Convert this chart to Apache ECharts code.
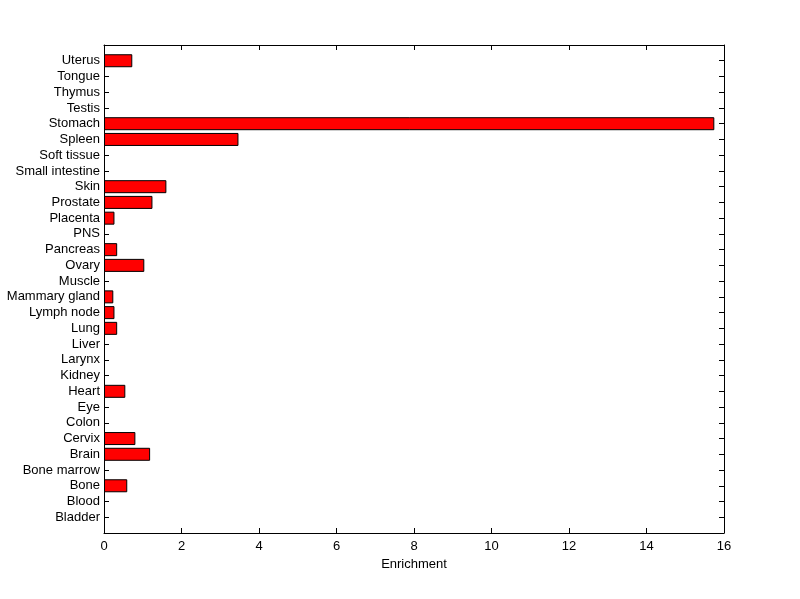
<!DOCTYPE html>
<html>
<head>
<meta charset="utf-8">
<script src="https://cdn.jsdelivr.net/npm/echarts@6/dist/echarts.min.js"></script>
<style>html,body{margin:0;padding:0;background:#fff;}#c{width:800px;height:599px;}</style>
</head>
<body>
<div id="c"></div>
<script>
var categories = ['Bladder','Blood','Bone','Bone marrow','Brain','Cervix','Colon','Eye','Heart','Kidney','Larynx','Liver','Lung','Lymph node','Mammary gland','Muscle','Ovary','Pancreas','PNS','Placenta','Prostate','Skin','Small intestine','Soft tissue','Spleen','Stomach','Testis','Thymus','Tongue','Uterus'];
var enrichment = [0,0,0.60,0,1.19,0.81,0,0,0.55,0,0,0,0.34,0.27,0.24,0,1.04,0.34,0,0.27,1.25,1.61,0,0,3.47,15.75,0,0,0,0.73];
var xTicks = [0,2,4,6,8,10,12,14,16];

var axisCats = [''].concat(categories).concat(['']);
var barData = [null].concat(enrichment.map(function(v){return v === 0 ? null : v;})).concat([null]);

var font = 'Arial, "Liberation Sans", Helvetica, sans-serif';
var chart = echarts.init(document.getElementById('c'), null, {renderer:'canvas'});
var lineStyle = {color:'#000', width:1};
chart.setOption({
  animation:false,
  backgroundColor:'#fff',
  grid:{left:104, right:76, top:45, bottom:66, containLabel:false},
  xAxis:[{
    type:'value', min:xTicks[0], max:xTicks[xTicks.length-1], interval:2, position:'bottom',
    name:'Enrichment', nameLocation:'middle', nameGap:23,
    nameTextStyle:{color:'#000', fontSize:13, fontFamily:font},
    axisLine:{show:true, onZero:false, lineStyle:lineStyle},
    axisTick:{show:true, inside:true, length:5, lineStyle:lineStyle},
    axisLabel:{color:'#000', fontSize:13, fontFamily:font, margin:7},
    splitLine:{show:false}
  },{
    type:'value', min:xTicks[0], max:xTicks[xTicks.length-1], interval:2, position:'top',
    axisLine:{show:true, onZero:false, lineStyle:lineStyle},
    axisTick:{show:true, inside:true, length:5, lineStyle:lineStyle},
    axisLabel:{show:false}, splitLine:{show:false}
  }],
  yAxis:[{
    type:'category', data:axisCats, boundaryGap:false, position:'left',
    axisLine:{show:true, onZero:false, lineStyle:lineStyle},
    axisTick:{show:true, inside:true, length:5, lineStyle:lineStyle, interval:0},
    axisLabel:{color:'#000', fontSize:13, fontFamily:font, margin:4, interval:0},
    splitLine:{show:false}
  },{
    type:'category', data:axisCats, boundaryGap:false, position:'right',
    axisLine:{show:true, onZero:false, lineStyle:lineStyle},
    axisTick:{show:true, inside:true, length:5, lineStyle:lineStyle, interval:0},
    axisLabel:{show:false}, splitLine:{show:false}
  }],
  series:[{
    type:'bar', xAxisIndex:0, yAxisIndex:0, data:barData, barWidth:13,
    itemStyle:{color:'#ff0000', borderColor:'#000', borderWidth:1},
    z:1
  }]
});
</script>
</body>
</html>
